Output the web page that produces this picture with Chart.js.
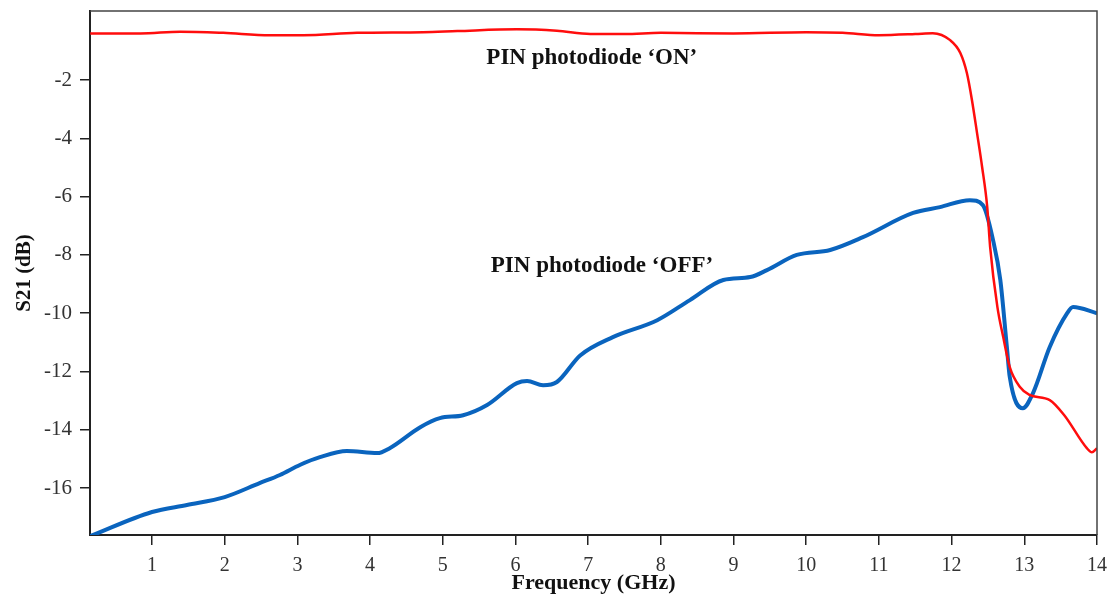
<!DOCTYPE html>
<html lang="en">
<head>
    <meta charset="UTF-8">
    <script src="https://cdn.jsdelivr.net/npm/chart.js"></script>
    <title>S21 vs Frequency</title>
    <style>
        body {
            margin: 0;
            background: #ffffff;
        }
        .wrap {
            width: 1115px;
            height: 605px;
        }
    </style>
</head>
<body>
    <div class="wrap">
        <canvas id="s21Chart" width="1115" height="605"></canvas>
    </div>

    <script>
        // PIN photodiode 'ON' (red)
        const onFreq = [0.15, 0.84, 1.39, 1.98, 2.62, 3.08, 3.82, 4.73, 5.2, 6.02, 6.57, 7.03, 7.5, 8.0, 9.0, 10.0, 10.5, 11.0, 11.5, 11.74, 11.98, 12.12, 12.21, 12.28, 12.35, 12.42, 12.49, 12.53, 12.63, 12.71, 12.8, 12.94, 13.07, 13.35, 13.55, 13.86, 13.93, 14.0];
        const onS21 = [-0.40, -0.40, -0.34, -0.38, -0.46, -0.46, -0.38, -0.36, -0.32, -0.26, -0.31, -0.42, -0.42, -0.38, -0.40, -0.36, -0.38, -0.46, -0.42, -0.39, -0.63, -1.07, -1.76, -2.69, -3.82, -4.99, -6.36, -7.73, -9.79, -10.82, -11.85, -12.53, -12.8, -12.98, -13.5, -14.63, -14.77, -14.63];

        // PIN photodiode 'OFF' (blue)
        const offFreq = [0.15, 1.0, 1.48, 2.0, 2.48, 2.76, 3.04, 3.31, 3.68, 4.1, 4.27, 4.69, 4.96, 5.28, 5.61, 6.02, 6.16, 6.38, 6.57, 6.89, 7.34, 7.95, 8.4, 8.86, 9.23, 9.46, 9.87, 10.33, 10.78, 11.47, 11.84, 12.25, 12.43, 12.57, 12.67, 12.76, 12.8, 12.98, 13.12, 13.35, 13.59, 13.67, 14.0];
        const offS21 = [-17.65, -16.82, -16.58, -16.31, -15.83, -15.55, -15.2, -14.94, -14.73, -14.8, -14.63, -13.91, -13.6, -13.5, -13.15, -12.4, -12.33, -12.47, -12.36, -11.45, -10.82, -10.24, -9.55, -8.86, -8.76, -8.52, -8.0, -7.83, -7.39, -6.56, -6.36, -6.12, -6.29, -7.49, -8.86, -11.16, -12.19, -13.26, -12.74, -11.16, -10.0, -9.79, -10.0];

        // tick labels
        const xTicks = [1, 2, 3, 4, 5, 6, 7, 8, 9, 10, 11, 12, 13, 14];
        const yTicks = [-16, -14, -12, -10, -8, -6, -4, -2];

        // in-plot labels (data units)
        const noteText = ["PIN photodiode \u2018ON\u2019", "PIN photodiode \u2018OFF\u2019"];
        const noteX = [7.05, 7.19];
        const noteY = [-1.25, -8.38];

        const toPoints = (xs, ys) => xs.map((x, i) => ({ x: x, y: ys[i] }));

        const serif = "'Liberation Serif', 'Times New Roman', serif";

        // frame on top/right + text labels
        const framePlugin = {
            id: "framePlugin",
            afterDatasetsDraw(chart) {
                const { ctx, chartArea, scales } = chart;
                ctx.save();
                ctx.strokeStyle = "#444";
                ctx.lineWidth = 1.5;
                ctx.beginPath();
                ctx.moveTo(chartArea.left, chartArea.top);
                ctx.lineTo(chartArea.right, chartArea.top);
                ctx.lineTo(chartArea.right, chartArea.bottom);
                ctx.stroke();

                ctx.fillStyle = "#111";
                ctx.font = "bold 23px " + serif;
                ctx.textAlign = "center";
                ctx.textBaseline = "middle";
                noteText.forEach((t, i) => {
                    ctx.fillText(t, scales.x.getPixelForValue(noteX[i]), scales.y.getPixelForValue(noteY[i]));
                });
                ctx.restore();
            }
        };

        const ctx = document.getElementById("s21Chart").getContext("2d");
        new Chart(ctx, {
            type: "line",
            data: {
                datasets: [
                    {
                        label: "ON",
                        data: toPoints(onFreq, onS21),
                        borderColor: "#ff0d0d",
                        borderWidth: 2.5,
                        pointRadius: 0,
                        fill: false,
                        cubicInterpolationMode: "monotone"
                    },
                    {
                        label: "OFF",
                        data: toPoints(offFreq, offS21),
                        borderColor: "#0a64be",
                        borderWidth: 4,
                        pointRadius: 0,
                        fill: false,
                        cubicInterpolationMode: "monotone"
                    }
                ]
            },
            options: {
                responsive: false,
                animation: false,
                layout: {
                    padding: { left: 0, right: 18, top: 11, bottom: 0 }
                },
                plugins: {
                    legend: { display: false },
                    tooltip: { enabled: false }
                },
                scales: {
                    x: {
                        type: "linear",
                        min: 0.147,
                        max: 14,
                        afterBuildTicks: (axis) => {
                            axis.ticks = xTicks.map(v => ({ value: v }));
                        },
                        afterFit: (axis) => {
                            axis.height = 70;
                            axis.paddingLeft = 0;
                            axis.paddingRight = 0;
                        },
                        grid: {
                            drawOnChartArea: false,
                            drawTicks: true,
                            tickLength: 10,
                            color: "#222",
                            lineWidth: 1.5
                        },
                        border: { display: true, color: "#222", width: 2 },
                        ticks: {
                            color: "#333",
                            padding: 9,
                            maxRotation: 0,
                            font: { family: serif, size: 20 }
                        },
                        title: {
                            display: true,
                            text: "Frequency (GHz)",
                            color: "#111",
                            font: { family: serif, size: 22, weight: "bold" },
                            padding: { top: 0, bottom: 8 }
                        }
                    },
                    y: {
                        type: "linear",
                        min: -17.61,
                        max: 0.37,
                        afterBuildTicks: (axis) => {
                            axis.ticks = yTicks.map(v => ({ value: v }));
                        },
                        afterFit: (axis) => {
                            axis.width = 90;
                            axis.paddingTop = 0;
                            axis.paddingBottom = 0;
                        },
                        grid: {
                            drawOnChartArea: false,
                            drawTicks: true,
                            tickLength: 10,
                            color: "#222",
                            lineWidth: 1.5
                        },
                        border: { display: true, color: "#222", width: 2 },
                        ticks: {
                            color: "#333",
                            padding: 8,
                            font: { family: serif, size: 21 }
                        },
                        title: {
                            display: true,
                            text: "S21 (dB)",
                            color: "#111",
                            font: { family: serif, size: 21, weight: "bold" },
                            padding: { top: 12, bottom: 0 }
                        }
                    }
                }
            },
            plugins: [framePlugin]
        });
    </script>
</body>
</html>
